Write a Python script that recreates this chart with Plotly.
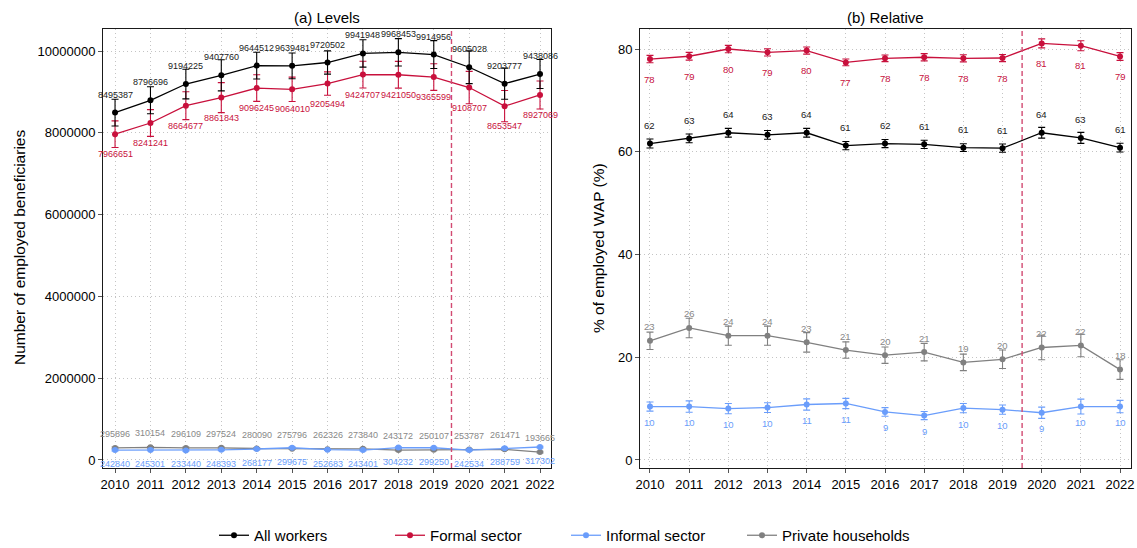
import plotly.graph_objects as go

years = list(range(2010, 2023))

# (a) Levels: number of employed beneficiaries
all_workers = [8495387, 8796696, 9194225, 9407760, 9644512, 9639481, 9720502,
               9941948, 9968453, 9914956, 9605028, 9203777, 9438086]
all_workers_err = [326000, 330000, 363000, 380000, 326000, 315000, 285000,
                   335000, 335000, 340000, 400000, 380000, 355000]
formal = [7966651, 8241241, 8664677, 8861843, 9096245, 9064010, 9205494,
          9424707, 9421050, 9365599, 9108707, 8653547, 8927069]
formal_err = [326000, 326000, 342000, 367000, 326000, 298000, 285000,
              326000, 326000, 326000, 395000, 383000, 342000]
informal = [242840, 245301, 233440, 248393, 268177, 299675, 252683,
            243401, 304232, 299250, 242534, 288759, 317302]
informal_err = [20000] * 13
households = [295896, 310154, 296109, 297524, 280090, 275796, 262326,
              273840, 243172, 250107, 253787, 261471, 193665]
households_err = [20000] * 13

# (b) Relative: % of employed working-age population
all_pct = [61.6, 62.6, 63.7, 63.3, 63.7, 61.2, 61.6, 61.45, 60.8, 60.7, 63.7, 62.7, 60.8]
all_pct_err = [0.88, 0.85, 0.85, 0.85, 0.85, 0.8, 0.8, 0.8, 0.75, 0.8, 1.04, 1.07, 0.85]
formal_pct = [78.05, 78.6, 80.0, 79.35, 79.7, 77.4, 78.2, 78.4, 78.2, 78.25, 81.1, 80.65, 78.55]
formal_pct_err = [0.72, 0.75, 0.71, 0.7, 0.7, 0.65, 0.65, 0.7, 0.7, 0.7, 0.88, 0.97, 0.75]
informal_pct = [10.4, 10.4, 10.0, 10.2, 10.8, 11.0, 9.35, 8.65, 10.1, 9.8, 9.2, 10.4, 10.4]
informal_pct_err = [0.88, 1.1, 1.0, 0.95, 1.1, 1.0, 0.85, 0.8, 0.9, 0.9, 1.1, 1.45, 1.2]
households_pct = [23.2, 25.7, 24.2, 24.2, 22.9, 21.4, 20.4, 21.0, 19.0, 19.6, 21.9, 22.3, 17.6]
households_pct_err = [1.7, 1.9, 1.85, 1.85, 1.9, 1.6, 1.6, 1.7, 1.6, 1.8, 2.4, 2.2, 1.9]

series_names = ["All workers", "Formal sector", "Informal sector", "Private households"]
colors = {"All workers": "#000000", "Formal sector": "#C8103C",
          "Informal sector": "#6A9DFB", "Private households": "#808080"}
label_colors = {"All workers": "#1a1a1a", "Formal sector": "#C8103C",
                "Informal sector": "#6A9DFB", "Private households": "#888888"}

levels = {"All workers": (all_workers, all_workers_err),
          "Formal sector": (formal, formal_err),
          "Informal sector": (informal, informal_err),
          "Private households": (households, households_err)}
relative = {"All workers": (all_pct, all_pct_err),
            "Formal sector": (formal_pct, formal_pct_err),
            "Informal sector": (informal_pct, informal_pct_err),
            "Private households": (households_pct, households_pct_err)}

# vertical pixel offsets of the value labels
shift_left = {"All workers": 18, "Formal sector": -20, "Informal sector": -14, "Private households": 14}
shift_right = {"All workers": 18, "Formal sector": -20, "Informal sector": -16, "Private households": 14}

FONT = "Liberation Sans, Arial, Helvetica, sans-serif"
W, H = 1137, 548

fig = go.Figure()
annotations = []

draw_order = ["Private households", "Informal sector", "Formal sector", "All workers"]

for name in draw_order:
    vals, errs = levels[name]
    fig.add_trace(go.Scatter(
        x=years, y=vals, mode="lines+markers", name=name,
        line=dict(color=colors[name], width=1.3),
        marker=dict(color=colors[name], size=6),
        error_y=dict(type="data", array=errs, visible=True,
                     color=colors[name], thickness=1.1, width=3.5),
        xaxis="x", yaxis="y", showlegend=False, legendrank=series_names.index(name),
    ))
    for yr, v in zip(years, vals):
        annotations.append(dict(
            x=yr, y=v, xref="x", yref="y", text=str(v), showarrow=False,
            yshift=shift_left[name], font=dict(family=FONT, size=9, color=label_colors[name]),
        ))

for name in draw_order:
    vals, errs = relative[name]
    fig.add_trace(go.Scatter(
        x=years, y=vals, mode="lines+markers", name=name,
        line=dict(color=colors[name], width=1.3),
        marker=dict(color=colors[name], size=6),
        error_y=dict(type="data", array=errs, visible=True,
                     color=colors[name], thickness=1.1, width=3.5),
        xaxis="x2", yaxis="y2", showlegend=True, legendrank=series_names.index(name),
    ))
    for yr, v in zip(years, vals):
        annotations.append(dict(
            x=yr, y=v, xref="x2", yref="y2", text=f"{v:.0f}", showarrow=False,
            yshift=shift_right[name], font=dict(family=FONT, size=9.5, color=label_colors[name]),
        ))

# panel titles and axis titles
annotations += [
    dict(x=327 / W, y=1 - 17 / H, xref="paper", yref="paper", text="(a) Levels",
         xanchor="center", yanchor="middle",
         showarrow=False, font=dict(family=FONT, size=15, color="#000")),
    dict(x=885 / W, y=1 - 17 / H, xref="paper", yref="paper", text="(b) Relative",
         xanchor="center", yanchor="middle",
         showarrow=False, font=dict(family=FONT, size=15, color="#000")),
    dict(x=19 / W, y=1 - 248 / H, xref="paper", yref="paper", text="Number of employed beneficiaries",
         xanchor="center", yanchor="middle",
         textangle=-90, showarrow=False, font=dict(family=FONT, size=15.5, color="#000")),
    dict(x=598 / W, y=1 - 248 / H, xref="paper", yref="paper", text="% of employed WAP (%)",
         xanchor="center", yanchor="middle",
         textangle=-90, showarrow=False, font=dict(family=FONT, size=15.5, color="#000")),
]

# policy break marker between 2019 and 2020
shapes = []
for xr, yr in (("x", "y"), ("x2", "y2")):
    shapes.append(dict(type="line", xref=xr, yref=f"{yr} domain", x0=2019.5, x1=2019.5,
                       y0=0, y1=1, line=dict(color="#D24A72", width=1.4, dash="5px,3px")))

axis_common = dict(
    showline=True, linecolor="#1a1a1a", linewidth=1, mirror=True,
    showgrid=True, gridcolor="#c4c4c4", griddash="1px,3px", gridwidth=1,
    ticks="outside", ticklen=4, tickcolor="#555555", zeroline=False,
    tickfont=dict(family=FONT, size=13, color="#000"),
)

y_dom = [1 - 468 / H, 1 - 29 / H]

fig.update_layout(
    width=W, height=H,
    margin=dict(l=0, r=0, t=0, b=0, autoexpand=False),
    paper_bgcolor="white", plot_bgcolor="white",
    font=dict(family=FONT, color="#000"),
    xaxis=dict(domain=[103 / W, 551 / W], range=[2009.66, 2022.31],
               tickvals=years, **axis_common),
    yaxis=dict(domain=y_dom, range=[-196000, 10540000], tickvals=[0, 2000000, 4000000, 6000000, 8000000, 10000000],
               tickformat="d", anchor="x", **axis_common),
    xaxis2=dict(domain=[640 / W, 1131 / W], range=[2009.745, 2022.28],
                tickvals=years, anchor="y2", **axis_common),
    yaxis2=dict(domain=y_dom, range=[-1.56, 83.9], tickvals=[0, 20, 40, 60, 80],
                anchor="x2", **axis_common),
    legend=dict(orientation="h", x=214 / W, xanchor="left", y=-4 / H, yanchor="bottom",
                font=dict(family=FONT, size=15, color="#000"), traceorder="normal",
                entrywidth=131, entrywidthmode="pixels",
                bgcolor="rgba(0,0,0,0)"),
    annotations=annotations,
    shapes=shapes,
)

fig.write_html("out.html")
